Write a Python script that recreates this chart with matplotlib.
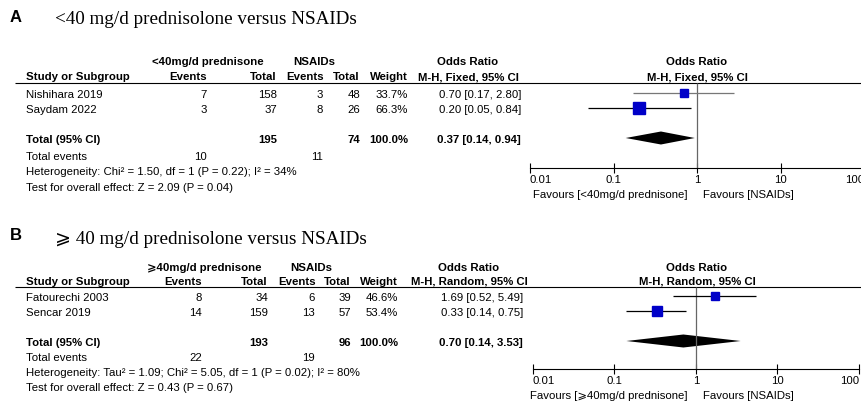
import matplotlib.pyplot as plt
from matplotlib.ticker import NullLocator

# panel A: <40 mg/d prednisolone versus NSAIDs
studies_a = ["Nishihara 2019", "Saydam 2022"]
events1_a = [7, 3]
total1_a = [158, 37]
events2_a = [3, 8]
total2_a = [48, 26]
weight_a = [33.7, 66.3]
or_a = [0.70, 0.20]
lo_a = [0.17, 0.05]
hi_a = [2.80, 0.84]
pooled_a = [0.37, 0.14, 0.94]
sum_total_a = [195, 74]
sum_events_a = [10, 11]
het_a = "Heterogeneity: Chi² = 1.50, df = 1 (P = 0.22); I² = 34%"
test_a = "Test for overall effect: Z = 2.09 (P = 0.04)"

# panel B: >=40 mg/d prednisolone versus NSAIDs
studies_b = ["Fatourechi 2003", "Sencar 2019"]
events1_b = [8, 14]
total1_b = [34, 159]
events2_b = [6, 13]
total2_b = [39, 57]
weight_b = [46.6, 53.4]
or_b = [1.69, 0.33]
lo_b = [0.52, 0.14]
hi_b = [5.49, 0.75]
pooled_b = [0.70, 0.14, 3.53]
sum_total_b = [193, 96]
sum_events_b = [22, 19]
het_b = "Heterogeneity: Tau² = 1.09; Chi² = 5.05, df = 1 (P = 0.02); I² = 80%"
test_b = "Test for overall effect: Z = 0.43 (P = 0.67)"

ticks = [0.01, 0.1, 1, 10, 100]
tick_labels = ["0.01", "0.1", "1", "10", "100"]

W, H = 862, 401
SANS = ["Liberation Sans", "DejaVu Sans"]
SERIF = ["Liberation Serif", "DejaVu Serif", "DejaVu Sans"]
FS = 8.2
BLUE = "#0000c8"

fig = plt.figure(figsize=(W / 100, H / 100), dpi=100)
ax = fig.add_axes([0, 0, 1, 1])
ax.set_xlim(0, W)
ax.set_ylim(H, 0)
ax.axis("off")


def txt(x, y, s, ha="left", bold=False, **kw):
    ax.text(x, y, s, ha=ha, va="center", fontsize=FS, family=SANS,
            fontweight="bold" if bold else "normal", **kw)


def draw_panel(letter, title, group, method, studies, ev1, tot1, ev2, tot2,
               weight, orv, lo, hi, pooled, sum_tot, sum_ev, het, test, L):
    # heading
    ax.text(10, L["letter"], letter, fontsize=12, family=SANS, fontweight="bold",
            va="center", ha="left")
    ax.text(55, L["title"], title, fontsize=13.8, family=SERIF, va="center", ha="left")

    c = L["cols"]
    # group headers
    txt(c["g1"], L["group"], group, ha="center", bold=True)
    txt(c["g2"], L["group"], "NSAIDs", ha="center", bold=True)
    txt(c["orc"], L["group"], "Odds Ratio", ha="center", bold=True)
    txt(697, L["group"], "Odds Ratio", ha="center", bold=True)
    # column headers
    y = L["head"]
    txt(26, y, "Study or Subgroup", bold=True)
    txt(c["ev1"], y, "Events", ha="right", bold=True)
    txt(c["tot1"], y, "Total", ha="right", bold=True)
    txt(c["ev2"] + 1, y, "Events", ha="right", bold=True)
    txt(c["tot2"], y, "Total", ha="right", bold=True)
    txt(c["w"], y, "Weight", ha="right", bold=True)
    txt(c["orc"], y, method, ha="center", bold=True)
    txt(697, y, method, ha="center", bold=True)
    ax.hlines(L["line"], 15, W, color="black", lw=0.8)

    # study rows
    for i, name in enumerate(studies):
        y = L["rows"][i]
        txt(26, y, name)
        txt(c["ev1"], y, str(ev1[i]), ha="right")
        txt(c["tot1"], y, str(tot1[i]), ha="right")
        txt(c["ev2"], y, str(ev2[i]), ha="right")
        txt(c["tot2"], y, str(tot2[i]), ha="right")
        txt(c["w"], y, f"{weight[i]:.1f}%", ha="right")
        txt(c["or"], y, f"{orv[i]:.2f} [{lo[i]:.2f}, {hi[i]:.2f}]", ha="right")

    y = L["total"]
    txt(26, y, "Total (95% CI)", bold=True)
    txt(c["tot1"], y, str(sum_tot[0]), ha="right", bold=True)
    txt(c["tot2"], y, str(sum_tot[1]), ha="right", bold=True)
    txt(c["w"], y, "100.0%", ha="right", bold=True)
    txt(c["or"], y, f"{pooled[0]:.2f} [{pooled[1]:.2f}, {pooled[2]:.2f}]",
        ha="right", bold=True)
    y = L["events"]
    txt(26, y, "Total events")
    txt(c["ev1"], y, str(sum_ev[0]), ha="right")
    txt(c["ev2"], y, str(sum_ev[1]), ha="right")
    txt(26, L["het"], het)
    txt(26, L["test"], test)

    # forest plot
    x0, x1 = L["fx"]
    top, bot = L["line"], L["axis"] + 40
    fx = fig.add_axes([x0 / W, 1 - bot / H, (x1 - x0) / W, (bot - top) / H])
    fx.patch.set_visible(False)
    fx.set_xscale("log")
    fx.set_xlim(0.01, 100)
    fx.set_ylim(bot, top)
    for s in ["top", "left", "right"]:
        fx.spines[s].set_visible(False)
    fx.spines["bottom"].set_position(("data", L["axis"]))
    fx.spines["bottom"].set_linewidth(0.8)
    fx.set_yticks([])
    fx.set_xticks(ticks, tick_labels)
    fx.xaxis.set_minor_locator(NullLocator())
    fx.tick_params(axis="x", direction="inout", length=7, width=0.8, pad=1.5,
                   labelsize=FS)
    for lab in fx.get_xticklabels():
        lab.set_family(SANS)
    labs = fx.get_xticklabels()
    labs[0].set_ha("left")
    labs[-1].set_ha("right")

    fx.vlines(1, L["line"], L["axis"], color="#666666", lw=0.9)
    for i in range(len(studies)):
        y = L["rows"][i] - 2
        fx.hlines(y, lo[i], hi[i], color=L["ci_col"][i], lw=0.9)
        side = 2 + 0.15 * weight[i]
        fx.plot(orv[i], y, marker="s", ms=side * 0.72, color=BLUE, mec=BLUE)
    yd = L["total"] - 2
    fx.fill([pooled[1], pooled[0], pooled[2], pooled[0]],
            [yd, yd - 6.5, yd, yd + 6.5], color="black", lw=0)

    txt(688, L["fav"], "Favours [" + group + "]", ha="right")
    txt(703, L["fav"], "Favours [NSAIDs]")


layout_a = dict(letter=18, title=20, group=62, head=77, line=83,
                rows=[95, 110], total=140, events=157, het=172, test=188,
                axis=168, fav=195, fx=(530, 864), ci_col=["#777777", "black"],
                cols=dict(g1=208, g2=314, ev1=207, tot1=277, ev2=323, tot2=360,
                          w=408, orc=468, **{"or": 521}))
layout_b = dict(letter=235, title=240, group=268, head=282, line=287,
                rows=[298, 313], total=343, events=358, het=373, test=388,
                axis=369, fav=396, fx=(533, 859), ci_col=["black", "black"],
                cols=dict(g1=204, g2=311, ev1=202, tot1=268, ev2=315, tot2=351,
                          w=398, orc=469, **{"or": 523}))

draw_panel("A", "<40 mg/d prednisolone versus NSAIDs", "<40mg/d prednisone",
           "M-H, Fixed, 95% CI", studies_a, events1_a, total1_a, events2_a,
           total2_a, weight_a, or_a, lo_a, hi_a, pooled_a, sum_total_a,
           sum_events_a, het_a, test_a, layout_a)
draw_panel("B", "\u2a7e 40 mg/d prednisolone versus NSAIDs", "\u2a7e40mg/d prednisone",
           "M-H, Random, 95% CI", studies_b, events1_b, total1_b, events2_b,
           total2_b, weight_b, or_b, lo_b, hi_b, pooled_b, sum_total_b,
           sum_events_b, het_b, test_b, layout_b)

fig.savefig("out.png", dpi=100)
